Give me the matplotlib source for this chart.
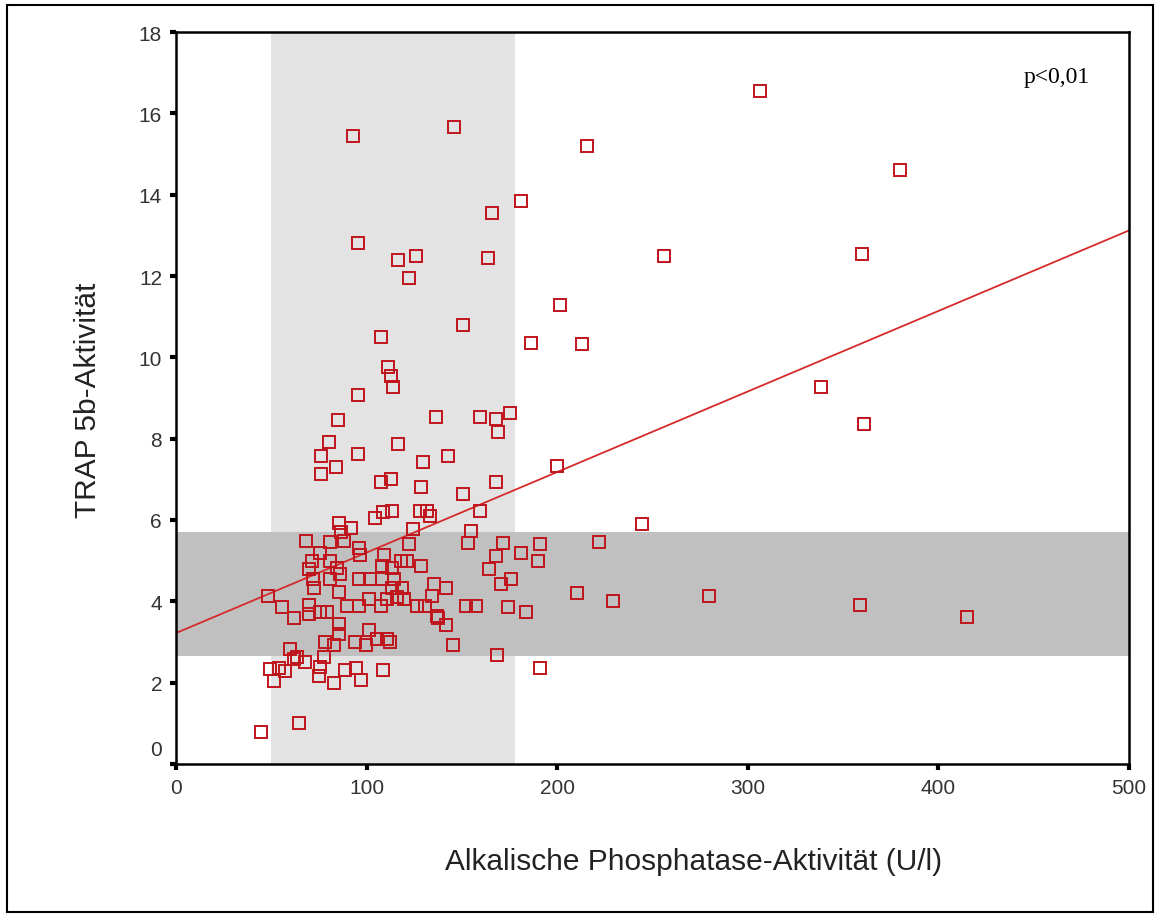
import numpy as np
import matplotlib.pyplot as plt
from matplotlib.patches import Rectangle
import matplotlib.transforms as mtrans

plt.rcParams['font.family'] = ['Liberation Sans', 'DejaVu Sans']

# Alkalische Phosphatase (U/l) and TRAP 5b
alp = [93.0, 145.6, 215.6, 306.5, 380.0, 181.0, 166.0, 95.7, 126.0, 116.7, 122.0, 163.5, 256.0, 201.4, 360.0,
       150.6, 107.5, 186.0, 213.0, 338.6, 361.0, 199.8,
       111.3, 112.8, 113.9, 95.5, 85.0, 136.3, 159.7, 167.7, 175.2, 168.8, 80.1, 116.6, 75.9, 95.7, 129.7, 142.7,
       84.0, 75.9, 107.4, 112.7, 128.4, 167.7, 150.5, 159.7, 104.5, 108.7, 113.4, 127.9, 131.8, 133.5,
       85.3, 92.0, 86.6, 88.3, 68.3, 81.0, 95.9, 75.7, 96.4, 109.0, 71.3, 81.0, 84.5, 69.6, 85.9, 108.1, 71.9,
       81.0, 95.9, 102.0, 108.1, 72.6, 85.3, 48.5, 55.6, 69.6, 89.7, 95.9, 101.1, 107.3, 110.8, 61.7, 69.6, 75.7, 79.2,
       154.6, 124.4, 122.1, 153.2, 171.8, 181.2, 167.7, 164.2, 117.8, 121.3, 128.3, 113.4, 114.3, 175.6, 170.3,
       135.3, 141.4, 113.4, 118.6, 134.4, 119.5, 116.0, 126.6, 130.9, 151.9, 157.2, 174.4, 183.5, 137.0,
       244.3, 222.0, 191.0, 190.0, 210.3, 229.1, 191.0,
       85.3, 85.3, 101.1, 94.1, 99.9, 78.3, 83.0, 105.5, 110.8, 59.9, 62.0, 67.8, 63.5, 77.4, 49.4, 54.3, 57.3,
       51.2, 75.7, 74.8, 88.9, 94.6, 97.1, 82.7, 108.7, 64.3, 44.5,
       137.4, 141.7, 112.5, 145.5, 168.6,
       279.7, 359.0, 414.8]
trap = [15.45, 15.66, 15.2, 16.55, 14.6, 13.84, 13.55, 12.8, 12.5, 12.4, 11.95, 12.44, 12.5, 11.29, 12.54,
        10.8, 10.49, 10.36, 10.33, 9.27, 8.36, 7.32,
        9.76, 9.55, 9.26, 9.08, 8.47, 8.53, 8.53, 8.48, 8.64, 8.17, 7.93, 7.86, 7.57, 7.62, 7.43, 7.57,
        7.31, 7.14, 6.94, 7.0, 6.82, 6.94, 6.65, 6.22, 6.05, 6.19, 6.22, 6.22, 6.22, 6.1,
        5.93, 5.8, 5.7, 5.49, 5.49, 5.45, 5.32, 5.19, 5.14, 5.14, 5.0, 5.0, 4.83, 4.79, 4.67, 4.88, 4.55,
        4.56, 4.55, 4.55, 4.55, 4.34, 4.22, 4.14, 3.85, 3.91, 3.88, 3.89, 4.06, 3.89, 4.06, 3.6, 3.69, 3.73, 3.73,
        5.74, 5.78, 5.41, 5.43, 5.43, 5.2, 5.12, 4.79, 5.0, 5.0, 4.88, 4.83, 4.56, 4.56, 4.43,
        4.43, 4.32, 4.32, 4.32, 4.14, 4.06, 4.1, 3.89, 3.89, 3.89, 3.89, 3.85, 3.73, 3.64,
        5.9, 5.47, 5.42, 4.98, 4.2, 4.02, 2.36,
        3.44, 3.2, 3.3, 2.99, 2.93, 2.99, 2.93, 3.07, 3.07, 2.83, 2.58, 2.5, 2.62, 2.62, 2.34, 2.35, 2.29,
        2.05, 2.38, 2.17, 2.32, 2.35, 2.07, 2.0, 2.32, 1.02, 0.78,
        3.58, 3.42, 2.99, 2.93, 2.68,
        4.13, 3.91, 3.61]

# regression line
fit_a = 3.22  # intercept
fit_b = 0.0198  # slope

# shaded reference ranges
alp_ref = [50, 178]
trap_ref = [2.65, 5.7]

xticks = [0, 100, 200, 300, 400, 500]
yticks = [0, 2, 4, 6, 8, 10, 12, 14, 16, 18]

W, H = 1160, 920
fig = plt.figure(figsize=(W / 100, H / 100), dpi=100)
ax = fig.add_axes([176 / W, 1 - 765 / H, (1129 - 176) / W, (765 - 33) / H])

ax.axvspan(alp_ref[0], alp_ref[1], color='#e3e3e3', lw=0, zorder=0)
ax.axhspan(trap_ref[0], trap_ref[1], color='#c0c0c0', lw=0, zorder=1)

xl = np.array([0, 500])
ax.plot(xl, fit_a + fit_b * xl, color='#d42a2a', lw=1.3, zorder=2)
ax.plot(alp, trap, 's', mfc='none', mec='#c0141c', ms=8, mew=1.4, zorder=3, clip_on=False)

ax.set_xlim(0, 500)
ax.set_ylim(0, 18)
ax.set_xticks(xticks)
ax.set_yticks(yticks)
for s in ax.spines.values():
    s.set_linewidth(1.8)
ax.tick_params(direction='out', length=4, width=3, labelsize=15, labelcolor='#333333', pad=6)

# the 0 on the y axis sits a bit higher in the original
lbl = ax.get_yticklabels()[0]
lbl.set_transform(lbl.get_transform() + mtrans.ScaledTranslation(0, 0.17, fig.dpi_scale_trans))

fig.text(694 / W, 1 - 862 / H, 'Alkalische Phosphatase-Aktivität (U/l)', ha='center', va='center',
         fontsize=21.5, color='#222222')
fig.text(88 / W, 1 - 400 / H, 'TRAP 5b-Aktivität', ha='center', va='center', rotation=90,
         fontsize=21.5, color='#222222')
fig.text(1057 / W, 1 - 78 / H, 'p<0,01', ha='center', va='center', fontsize=17,
         family=['Liberation Serif', 'DejaVu Serif'])

# frame round the whole picture
fig.patches.append(Rectangle((7 / W, 1 - 913 / H), (1153 - 7) / W, (913 - 6) / H,
                             transform=fig.transFigure, fill=False, ec='black', lw=1.5))

fig.savefig('out.png', dpi=100)
